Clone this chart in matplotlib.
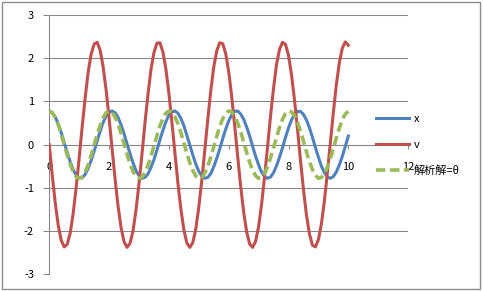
import matplotlib.pyplot as plt
from matplotlib.patches import Rectangle

plt.rcParams['font.family'] = ['Noto Sans CJK JP', 'DejaVu Sans']
plt.rcParams['axes.unicode_minus'] = False

# time samples (step 0.1)
t = [0.0, 0.1, 0.2, 0.3, 0.4, 0.5, 0.6, 0.7, 0.8, 0.9,
     1.0, 1.1, 1.2, 1.3, 1.4, 1.5, 1.6, 1.7, 1.8, 1.9,
     2.0, 2.1, 2.2, 2.3, 2.4, 2.5, 2.6, 2.7, 2.8, 2.9,
     3.0, 3.1, 3.2, 3.3, 3.4, 3.5, 3.6, 3.7, 3.8, 3.9,
     4.0, 4.1, 4.2, 4.3, 4.4, 4.5, 4.6, 4.7, 4.8, 4.9,
     5.0, 5.1, 5.2, 5.3, 5.4, 5.5, 5.6, 5.7, 5.8, 5.9,
     6.0, 6.1, 6.2, 6.3, 6.4, 6.5, 6.6, 6.7, 6.8, 6.9,
     7.0, 7.1, 7.2, 7.3, 7.4, 7.5, 7.6, 7.7, 7.8, 7.9,
     8.0, 8.1, 8.2, 8.3, 8.4, 8.5, 8.6, 8.7, 8.8, 8.9,
     9.0, 9.1, 9.2, 9.3, 9.4, 9.5, 9.6, 9.7, 9.8, 9.9,
     10.0]

# numerical angle x
x = [0.78, 0.74, 0.64, 0.48, 0.28, 0.05, -0.18, -0.40, -0.58, -0.71,
     -0.77, -0.77, -0.69, -0.55, -0.37, -0.15, 0.08, 0.31, 0.51, 0.66,
     0.75, 0.78, 0.74, 0.63, 0.46, 0.25, 0.02, -0.21, -0.42, -0.60,
     -0.72, -0.78, -0.76, -0.68, -0.53, -0.35, -0.13, 0.11, 0.33, 0.53,
     0.68, 0.76, 0.78, 0.73, 0.61, 0.44, 0.22, -0.01, -0.24, -0.45,
     -0.62, -0.73, -0.78, -0.76, -0.67, -0.51, -0.32, -0.10, 0.14, 0.36,
     0.55, 0.69, 0.77, 0.78, 0.71, 0.59, 0.41, 0.20, -0.04, -0.27,
     -0.47, -0.64, -0.74, -0.78, -0.75, -0.65, -0.49, -0.29, -0.07, 0.17,
     0.39, 0.57, 0.70, 0.77, 0.77, 0.70, 0.57, 0.39, 0.17, -0.07,
     -0.29, -0.50, -0.65, -0.75, -0.78, -0.74, -0.63, -0.47, -0.27, -0.04,
     0.20]

# velocity v
v = [0.00, -0.71, -1.35, -1.87, -2.22, -2.37, -2.31, -2.05, -1.59, -0.99,
     -0.31, 0.41, 1.08, 1.68, 2.09, 2.33, 2.37, 2.19, 1.81, 1.27,
     0.62, -0.09, -0.79, -1.42, -1.92, -2.25, -2.38, -2.29, -2.00, -1.52,
     -0.91, -0.22, 0.50, 1.16, 1.74, 2.13, 2.35, 2.36, 2.15, 1.75,
     1.19, 0.53, -0.18, -0.88, -1.49, -1.97, -2.28, -2.38, -2.27, -1.95,
     -1.45, -0.83, -0.13, 0.58, 1.24, 1.80, 2.17, 2.36, 2.34, 2.11,
     1.69, 1.12, 0.44, -0.27, -0.96, -1.56, -2.02, -2.30, -2.38, -2.24,
     -1.90, -1.38, -0.74, -0.04, 0.67, 1.31, 1.86, 2.21, 2.37, 2.32,
     2.07, 1.62, 1.04, 0.36, -0.36, -1.04, -1.63, -2.07, -2.33, -2.37,
     -2.20, -1.84, -1.30, -0.65, 0.05, 0.75, 1.39, 1.90, 2.24, 2.38,
     2.30]

# analytic solution theta
theta = [0.78, 0.74, 0.63, 0.46, 0.24, 0.00, -0.24, -0.45, -0.63, -0.74,
         -0.78, -0.75, -0.64, -0.47, -0.25, -0.01, 0.23, 0.44, 0.62, 0.74,
         0.78, 0.75, 0.64, 0.48, 0.26, 0.02, -0.22, -0.44, -0.62, -0.73,
         -0.78, -0.75, -0.65, -0.48, -0.27, -0.03, 0.21, 0.43, 0.61, 0.73,
         0.78, 0.75, 0.65, 0.49, 0.28, 0.04, -0.20, -0.42, -0.60, -0.73,
         -0.78, -0.76, -0.66, -0.50, -0.29, -0.05, 0.19, 0.42, 0.60, 0.72,
         0.78, 0.76, 0.66, 0.50, 0.30, 0.06, -0.18, -0.41, -0.59, -0.72,
         -0.78, -0.76, -0.67, -0.51, -0.30, -0.07, 0.17, 0.40, 0.59, 0.72,
         0.78, 0.76, 0.67, 0.52, 0.31, 0.08, -0.17, -0.39, -0.58, -0.71,
         -0.78, -0.76, -0.68, -0.52, -0.32, -0.09, 0.16, 0.38, 0.58, 0.71,
         0.77]

grey = '#868686'

fig = plt.figure(figsize=(4.83, 2.91), dpi=100)
ax = fig.add_axes([0.102, 0.058, 0.743, 0.890])

ax.plot(t, x, color='#4F81BD', lw=2.2, label='x', zorder=3)
ax.plot(t, v, color='#C0504D', lw=2.2, label='v', zorder=3)
ax.plot(t, theta, color='#9BBB59', lw=2.6, dashes=(2.6, 1.3),
        label='解析解=θ', zorder=3)

ax.set_xlim(0, 12)
ax.set_ylim(-3, 3)
ax.set_xticks(range(0, 13, 2))
ax.set_yticks(range(-3, 4))
ax.grid(axis='y', color=grey, lw=0.75)
ax.set_axisbelow(True)

for s in ['top', 'right']:
    ax.spines[s].set_visible(False)
ax.spines['bottom'].set_position(('data', 0))
ax.spines['bottom'].set_color(grey)
ax.spines['left'].set_color(grey)
ax.spines['bottom'].set_linewidth(0.75)
ax.spines['left'].set_linewidth(0.75)

ax.tick_params(axis='x', direction='out', length=3, width=0.75, color=grey,
               pad=9.5, labelsize=8)
ax.tick_params(axis='y', direction='out', length=4, width=0.75, color=grey,
               pad=7, labelsize=8)

fig.legend(loc='center left', bbox_to_anchor=(0.778, 0.502), frameon=False,
           fontsize=8, handlelength=3.0, handletextpad=0.4, labelspacing=1.38,
           borderpad=0, borderaxespad=0)

fig.patches.append(Rectangle((0.004, 0.008), 0.99, 0.986, transform=fig.transFigure,
                             fill=False, ec='#8c8c8c', lw=1))

fig.savefig('out.png', dpi=100)
